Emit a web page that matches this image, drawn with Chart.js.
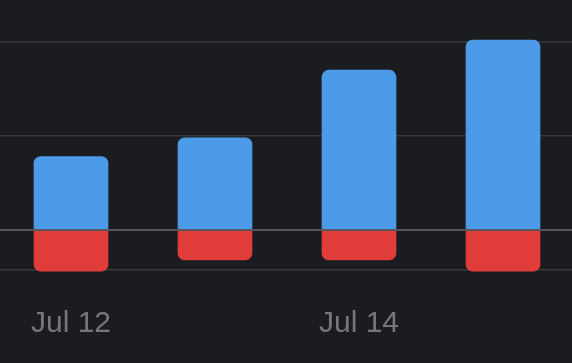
<!DOCTYPE html>
<html>
<head>
<meta charset="utf-8">
<script src="https://cdn.jsdelivr.net/npm/chart.js@4/dist/chart.umd.min.js"></script>
<style>
  html, body { margin: 0; padding: 0; background: #1b1c20; overflow: hidden; }
  #wrap { width: 576px; height: 363px; position: absolute; left: -1px; top: 0; }
</style>
</head>
<body>
<div id="wrap"><canvas id="c"></canvas></div>
<script>
const categories = ["Jul 12", "Jul 13", "Jul 14", "Jul 15"];
const positiveValues = [39, 49, 85, 101];
const negativeValues = [-22, -16, -16, -22];
const gridTickValues = [-21, 0, 50, 100];

const zeroLinePlugin = {
  id: 'zeroLine',
  afterDatasetsDraw(chart) {
    const y = chart.scales.y.getPixelForValue(0);
    const { left, right } = chart.chartArea;
    const ctx = chart.ctx;
    ctx.save();
    ctx.strokeStyle = '#56575c';
    ctx.lineWidth = 2;
    ctx.beginPath();
    ctx.moveTo(left, y);
    ctx.lineTo(right, y);
    ctx.stroke();
    ctx.restore();
  }
};

new Chart(document.getElementById('c'), {
  type: 'bar',
  data: {
    labels: categories,
    datasets: [
      { data: positiveValues, backgroundColor: '#4c9be9', borderRadius: 7, borderSkipped: 'start' },
      { data: negativeValues, backgroundColor: '#e03c3a', borderRadius: 7, borderSkipped: 'start' }
    ]
  },
  options: {
    responsive: true,
    maintainAspectRatio: false,
    animation: false,
    layout: { padding: { left: 0, right: 0, top: 34.5, bottom: 0 } },
    plugins: { legend: { display: false }, tooltip: { enabled: false } },
    datasets: { bar: { barThickness: 74, clip: false } },
    scales: {
      x: {
        stacked: true,
        afterFit: (scale) => { scale.height = 88; },
        grid: { display: false, drawTicks: false },
        border: { display: false },
        ticks: {
          autoSkip: false,
          maxRotation: 0,
          padding: 31,
          color: '#77777c',
          font: { family: 'Liberation Sans', size: 30 },
          callback: function(v, i) { return i % 2 === 0 ? this.getLabelForValue(v) : ''; }
        }
      },
      y: {
        stacked: true,
        min: -24,
        max: 104,
        afterBuildTicks: (scale) => { scale.ticks = gridTickValues.map(v => ({ value: v })); },
        grid: { color: '#37383c', lineWidth: 1.5, drawTicks: false },
        border: { display: false },
        ticks: { display: false }
      }
    }
  },
  plugins: [zeroLinePlugin]
});
</script>
</body>
</html>
